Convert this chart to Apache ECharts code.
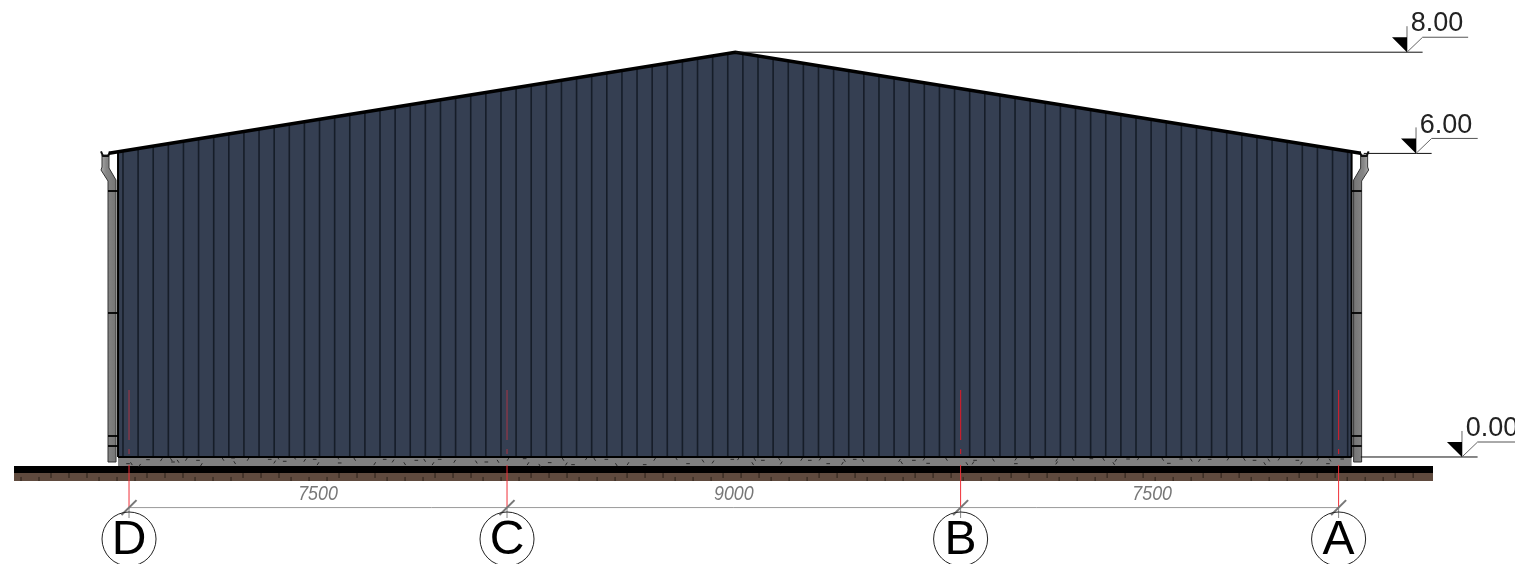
<!DOCTYPE html>
<html><head><meta charset="utf-8">
<style>html,body{margin:0;padding:0;background:#fff;overflow:hidden}#c{width:1515px;height:564px}</style>
<script src="https://cdn.jsdelivr.net/npm/echarts@6/dist/echarts.min.js"></script>
</head><body><div id="c"></div>
<script>
// All values are building dimensions in millimetres; axis D is x = 0, floor level is y = 0.
const gridNames = ['D','C','B','A'];
const gridX = [0,7500,16500,24000];
const spanLabels = ['7500','9000','7500'];
const spanMidX = [3750,12000,20300];
const levelLabels = ['8.00','6.00','0.00'];
const levelX = [25357,25536,26448];
const levelY = [8000,6000,0];
const levelLineStart = [12030,24500,24440];
const levelLineEnd = [26570,26760,27500];
const wallOutline = [[-218,0],[-218,6040],[12030,8000],[24258,6040],[24258,0]];
const roofLine = [[-400,6005],[12030,8000],[24440,6005]];
const ribX = [-120,180,480,780,1080,1380,1680,1980,2280,2580,2880,3180,3480,3780,4080,4380,4680,4980,5280,5580,5880,6180,6480,6780,7080,7380,7680,7980,8280,8580,8880,9180,9480,9780,10080,10380,10680,10980,11280,11580,11880,12180,12480,12780,13080,13380,13680,13980,14280,14580,14880,15180,15480,15780,16080,16380,16680,16980,17280,17580,17880,18180,18480,18780,19080,19380,19680,19980,20280,20580,20880,21180,21480,21780,22080,22380,22680,22980,23280,23580,23880,24180];
const ribTop = [6046,6094,6143,6191,6239,6288,6336,6385,6433,6481,6530,6578,6626,6675,6723,6771,6820,6868,6916,6965,7013,7062,7110,7158,7207,7255,7303,7352,7400,7448,7497,7545,7594,7642,7690,7739,7787,7835,7884,7932,7981,7971,7923,7874,7826,7778,7729,7681,7632,7584,7536,7487,7439,7391,7342,7294,7246,7197,7149,7100,7052,7004,6955,6907,6859,6810,6762,6713,6665,6617,6568,6520,6472,6423,6375,6326,6278,6230,6181,6133,6085,6036];
const slab = [[-218,0],[24258,0],[24258,-178],[-218,-178]];
const groundBlack = [[-2282,-178],[25873,-178],[25873,-316],[-2282,-316]];
const groundBrown = [[-2282,-316],[25873,-316],[25873,-474],[-2282,-474]];
const upperTicks = [-1548,-1191,-834,357,714,1071,2262,2619,2976,4167,4524,4881,6072,6429,6786,7977,8334,8691,9882,10239,10596,11787,12144,12501,13692,14049,14406,15597,15954,16311,17502,17859,18216,19407,19764,20121,21312,21669,22026,23217,23574,23931,25122,25479];
const lowerTicks = [-2143,-1786,-595,-238,119,1310,1667,2024,3215,3572,3929,5120,5477,5834,7025,7382,7739,8930,9287,9644,10835,11192,11549,12740,13097,13454,14645,15002,15359,16550,16907,17264,18455,18812,19169,20360,20717,21074,22265,22622,22979,24170,24527,24884];
const speckles = [[-20,-132],[47,-132],[212,-165],[377,-53],[642,-53],[840,-53],[873,-99],[973,-85],[1138,-46],[1369,-66],[1436,-151],[1865,-46],[2064,-20],[2097,-112],[2362,-46],[2792,-46],[2891,-99],[2957,-20],[3089,-85],[3287,-20],[3486,-66],[3684,-46],[3750,-132],[4147,-20],[4180,-118],[4478,-46],[4875,-132],[5073,-46],[5239,-79],[5470,-132],[5701,-66],[5866,-66],[6032,-132],[6164,-46],[6462,-85],[6891,-99],[7090,-99],[7321,-85],[7520,-46],[7850,-33],[7917,-132],[8148,-165],[8347,-112],[8611,-46],[8677,-138],[8810,-151],[9074,-33],[9239,-46],[9471,-46],[9669,-151],[9901,-132],[10232,-151],[10430,-46],[10860,-33],[11092,-132],[11389,-79],[11587,-99],[11970,-46],[12092,-33],[12416,-46],[12577,-66],[12901,-40],[13346,-46],[13508,-66],[13711,-40],[14196,-66],[14399,-46],[14561,-66],[15289,-66],[15573,-66],[15775,-40],[16220,-46],[16787,-66],[17151,-60],[17596,-40],[17920,-33],[18406,-60],[18730,-46],[19094,-33],[19337,-46],[19580,-66],[19823,-40],[20025,-33],[20511,-46],[20875,-40],[21077,-60],[21239,-66],[21442,-46],[21806,-40],[22130,-46],[22332,-66],[22615,-60],[22818,-40],[23182,-66],[23587,-46],[23830,-60],[24072,-40],[12375,-132],[12942,-118],[13873,-132],[14156,-125],[15330,-112],[15856,-125],[16625,-132],[16746,-118],[17596,-132],[18406,-118],[19539,-132],[20632,-125],[22534,-132],[23263,-118],[23789,-132]];
const pipeLeft = [[-536,5968],[-536,5731],[-556,5672],[-417,5454],[-417,-99],[-258,-99],[-258,5474],[-397,5711],[-397,5968]];
const pipeRight = [[24576,5968],[24576,5731],[24596,5672],[24457,5454],[24457,-99],[24298,-99],[24298,5474],[24437,5711],[24437,5968]];
const gutterLeft = [[-556,6040],[-516,5948],[-417,5948],[-377,6030]];
const gutterRight = [[24596,6040],[24556,5948],[24457,5948],[24417,6030]];
const bracketY = [5257,2846,415,217];
const gridBandTop = [[1324,336],[158,59]];
const gridBandLow = [-158,-1008];
const gridStubEnd = -1206;
const dimY = -1000;

const segs = (rows, style, z) => ({
  type:'custom', z, silent:true, animation:false, clip:false, data:rows,
  renderItem:(p,api)=>({type:'line',
    shape:(()=>{const a=api.coord([api.value(0),api.value(1)]),b=api.coord([api.value(2),api.value(3)]);
      return {x1:a[0],y1:a[1],x2:b[0],y2:b[1]};})(), style})
});
const poly = (pts, style, z) => ({
  type:'custom', z, silent:true, animation:false, clip:false, data:pts,
  renderItem:(p,api)=>p.dataIndex===0?{type:'polygon',shape:{points:pts.map(q=>api.coord(q))},style}:null
});
const path = (pts, color, width, z) => ({
  type:'line', z, silent:true, animation:false, symbol:'none', data:pts, clip:false,
  lineStyle:{color,width,join:'miter',cap:'butt'}
});
const labels = (rows, font, z, scaleX) => ({
  type:'custom', z, silent:true, animation:false, clip:false, data:rows,
  renderItem:(p,api)=>{const c=api.coord([rows[p.dataIndex][0],rows[p.dataIndex][1]]);
    return {type:'text',x:c[0],y:c[1],scaleX:scaleX||1,style:Object.assign({text:rows[p.dataIndex][2]},font)};}
});

const pipeFill = {type:'linear',x:0,y:0,x2:1,y2:0,colorStops:[{offset:0,color:'#b0b0b0'},{offset:0.35,color:'#868686'},{offset:1,color:'#747474'}]};
const pipeFillR = {type:'linear',x:0,y:0,x2:1,y2:0,colorStops:[{offset:0,color:'#747474'},{offset:0.65,color:'#868686'},{offset:1,color:'#b0b0b0'}]};

const series = [
  poly(groundBrown,{fill:'#5f4a3e'},1),
  poly(groundBlack,{fill:'#000'},2),
  segs(upperTicks.map(x=>[x,-316,x,-415]),{stroke:'#2a2018',lineWidth:1},3),
  segs(lowerTicks.map(x=>[x,-395,x,-474]),{stroke:'#2a2018',lineWidth:1},3),
  poly(slab,{fill:'#808080'},4),
  segs(speckles.map((s,i)=>[s[0]-(i%3?18:36),s[1]+(i%3?(i%2?28:-28):0),s[0]+(i%3?18:36),s[1]+(i%3?(i%2?-28:28):0)]),{stroke:'#2b2b2b',lineWidth:1},5),
  poly(pipeLeft,{fill:pipeFill,stroke:'#333',lineWidth:1},6),
  poly(pipeRight,{fill:pipeFillR,stroke:'#333',lineWidth:1},6),
  path(gutterLeft,'#111',2,7),
  path(gutterRight,'#111',2,7),
  segs(bracketY.map(y=>[-417,y,-218,y]),{stroke:'#000',lineWidth:1.8},7),
  segs(bracketY.map(y=>[24258,y,24457,y]),{stroke:'#000',lineWidth:1.8},7),
  poly(wallOutline,{fill:'#353f52'},8),
  segs(ribX.map((x,i)=>[x,0,x,ribTop[i]]),{stroke:'#161d28',lineWidth:1.6},9),
  segs([[-218,0,24258,0]],{stroke:'#000',lineWidth:2},10),
  segs([[-218,0,-218,6040],[24258,0,24258,6040]],{stroke:'#000',lineWidth:2},10),
  path(roofLine,'#000',3.5,11),
  // gridlines
  segs(gridX.slice(0,2).flatMap(x=>gridBandTop.map(b=>[x,b[0],x,b[1]])),{stroke:'#a83545',lineWidth:1},12),
  segs(gridX.slice(2).flatMap(x=>gridBandTop.map(b=>[x,b[0],x,b[1]])),{stroke:'#c8202e',lineWidth:1.2},12),
  segs(gridX.map(x=>[x,gridBandLow[0],x,gridBandLow[1]]),{stroke:'#f03038',lineWidth:1},12),
  segs(gridX.map(x=>[x,gridBandLow[1],x,gridStubEnd]),{stroke:'#888',lineWidth:1},12),
  segs([[gridX[0],dimY,gridX[3],dimY]],{stroke:'#9a9a9a',lineWidth:1},12),
  segs(gridX.map(x=>[x-149,dimY-148,x+149,dimY+148]),{stroke:'#777',lineWidth:2},13),
  {type:'custom',z:13,silent:true,animation:false,clip:false,data:gridX.map(x=>[x,-1621]),
   renderItem:(p,api)=>{const c=api.coord([api.value(0),api.value(1)]);
     return {type:'circle',shape:{cx:c[0],cy:c[1],r:api.size([536,0])[0]},style:{fill:'none',stroke:'#222',lineWidth:1}};}},
  labels(gridX.map((x,i)=>[x,-1650,gridNames[i]]),{fill:'#000',font:'48px "Liberation Sans"',textAlign:'center',textVerticalAlign:'middle'},14),
  labels(spanMidX.map((x,i)=>[x,-731,spanLabels[i]]),{fill:'#777',font:'italic 21px "Liberation Sans"',textAlign:'center',textVerticalAlign:'middle'},14,0.85),
  // level marks
  segs(levelX.map((x,i)=>[levelLineStart[i],levelY[i],x+310,levelY[i]]),{stroke:'#111',lineWidth:1},15),
  segs(levelX.map((x,i)=>[x,levelY[i],x,levelY[i]+514]),{stroke:'#666',lineWidth:1},15),
  segs(levelX.map((x,i)=>[x,levelY[i],x+310,levelY[i]+296]),{stroke:'#666',lineWidth:1},15),
  segs(levelX.map((x,i)=>[x+310,levelY[i]+296,levelLineEnd[i],levelY[i]+296]),{stroke:'#555',lineWidth:1},15),
  {type:'custom',z:15,silent:true,animation:false,clip:false,data:levelX.map((x,i)=>[x,levelY[i]]),
   renderItem:(p,api)=>{const x=api.value(0),y=api.value(1);
     return {type:'polygon',shape:{points:[[x,y],[x,y+296],[x-298,y+296]].map(q=>api.coord(q))},style:{fill:'#000'}};}},
  labels(levelX.map((x,i)=>[x+75,levelY[i]+557,levelLabels[i]]),{fill:'#222',font:'27px "Liberation Sans"',textAlign:'left',textVerticalAlign:'middle'},16)
];
const chart = echarts.init(document.getElementById('c'),null,{renderer:'canvas'});
chart.setOption({
  animation:false, backgroundColor:'#fff',
  grid:{left:0,right:0,top:0,bottom:0,containLabel:false},
  xAxis:{type:'value',min:-2560,max:27500,show:false},
  yAxis:{type:'value',min:-2115,max:9032,show:false},
  tooltip:{show:false}, legend:{show:false},
  series
});
</script></body></html>
